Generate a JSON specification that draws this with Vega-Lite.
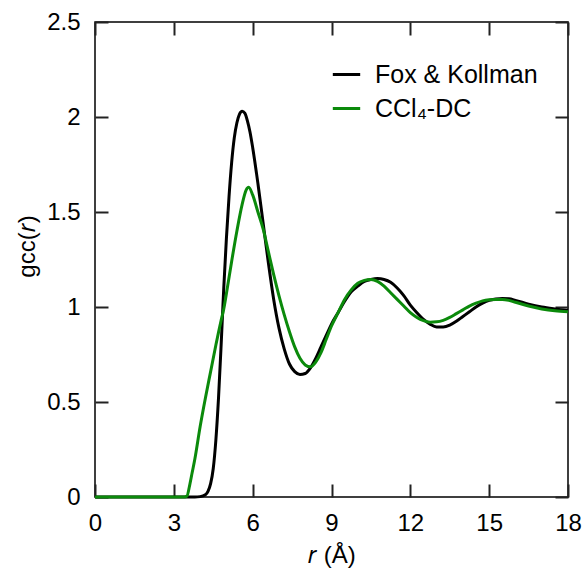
{
  "$schema": "https://vega.github.io/schema/vega-lite/v6.json",
  "autosize": "none",
  "padding": {"left": 95, "top": 22, "right": 19, "bottom": 80},
  "width": 473,
  "height": 475,
  "config": {"view": {"stroke": "black", "strokeWidth": 1.5}},
  "datasets": {
    "fk": [
      {"s": "Fox & Kollman", "r": 0, "g": 0}, {"s": "Fox & Kollman", "r": 3.8, "g": 0}, {"s": "Fox & Kollman", "r": 4.0, "g": 0.002}, {"s": "Fox & Kollman", "r": 4.2, "g": 0.012}, {"s": "Fox & Kollman", "r": 4.3, "g": 0.03}, {"s": "Fox & Kollman", "r": 4.4, "g": 0.07},
      {"s": "Fox & Kollman", "r": 4.5, "g": 0.15}, {"s": "Fox & Kollman", "r": 4.6, "g": 0.3}, {"s": "Fox & Kollman", "r": 4.7, "g": 0.52}, {"s": "Fox & Kollman", "r": 4.8, "g": 0.8}, {"s": "Fox & Kollman", "r": 4.85, "g": 0.95},
      {"s": "Fox & Kollman", "r": 4.9, "g": 1.1}, {"s": "Fox & Kollman", "r": 5.0, "g": 1.36}, {"s": "Fox & Kollman", "r": 5.1, "g": 1.58}, {"s": "Fox & Kollman", "r": 5.2, "g": 1.76}, {"s": "Fox & Kollman", "r": 5.3, "g": 1.89},
      {"s": "Fox & Kollman", "r": 5.4, "g": 1.97}, {"s": "Fox & Kollman", "r": 5.5, "g": 2.015}, {"s": "Fox & Kollman", "r": 5.6, "g": 2.03}, {"s": "Fox & Kollman", "r": 5.7, "g": 2.02}, {"s": "Fox & Kollman", "r": 5.8, "g": 1.98},
      {"s": "Fox & Kollman", "r": 5.9, "g": 1.92}, {"s": "Fox & Kollman", "r": 6.0, "g": 1.84}, {"s": "Fox & Kollman", "r": 6.2, "g": 1.65}, {"s": "Fox & Kollman", "r": 6.4, "g": 1.44}, {"s": "Fox & Kollman", "r": 6.6, "g": 1.23},
      {"s": "Fox & Kollman", "r": 6.8, "g": 1.04}, {"s": "Fox & Kollman", "r": 7.0, "g": 0.89}, {"s": "Fox & Kollman", "r": 7.2, "g": 0.78}, {"s": "Fox & Kollman", "r": 7.4, "g": 0.7}, {"s": "Fox & Kollman", "r": 7.6, "g": 0.66},
      {"s": "Fox & Kollman", "r": 7.8, "g": 0.645}, {"s": "Fox & Kollman", "r": 8.0, "g": 0.65}, {"s": "Fox & Kollman", "r": 8.2, "g": 0.68}, {"s": "Fox & Kollman", "r": 8.4, "g": 0.73}, {"s": "Fox & Kollman", "r": 8.6, "g": 0.79},
      {"s": "Fox & Kollman", "r": 8.8, "g": 0.85}, {"s": "Fox & Kollman", "r": 9.0, "g": 0.91}, {"s": "Fox & Kollman", "r": 9.25, "g": 0.97}, {"s": "Fox & Kollman", "r": 9.5, "g": 1.03}, {"s": "Fox & Kollman", "r": 9.75, "g": 1.08},
      {"s": "Fox & Kollman", "r": 10.0, "g": 1.11}, {"s": "Fox & Kollman", "r": 10.25, "g": 1.135}, {"s": "Fox & Kollman", "r": 10.5, "g": 1.145}, {"s": "Fox & Kollman", "r": 10.75, "g": 1.15}, {"s": "Fox & Kollman", "r": 11.0, "g": 1.145},
      {"s": "Fox & Kollman", "r": 11.25, "g": 1.13}, {"s": "Fox & Kollman", "r": 11.5, "g": 1.1}, {"s": "Fox & Kollman", "r": 11.75, "g": 1.06}, {"s": "Fox & Kollman", "r": 12.0, "g": 1.01}, {"s": "Fox & Kollman", "r": 12.25, "g": 0.97},
      {"s": "Fox & Kollman", "r": 12.5, "g": 0.935}, {"s": "Fox & Kollman", "r": 12.75, "g": 0.91}, {"s": "Fox & Kollman", "r": 13.0, "g": 0.895}, {"s": "Fox & Kollman", "r": 13.25, "g": 0.895}, {"s": "Fox & Kollman", "r": 13.5, "g": 0.905},
      {"s": "Fox & Kollman", "r": 13.75, "g": 0.925}, {"s": "Fox & Kollman", "r": 14.0, "g": 0.95}, {"s": "Fox & Kollman", "r": 14.25, "g": 0.975}, {"s": "Fox & Kollman", "r": 14.5, "g": 1.0}, {"s": "Fox & Kollman", "r": 14.75, "g": 1.02},
      {"s": "Fox & Kollman", "r": 15.0, "g": 1.035}, {"s": "Fox & Kollman", "r": 15.25, "g": 1.042}, {"s": "Fox & Kollman", "r": 15.5, "g": 1.045}, {"s": "Fox & Kollman", "r": 15.75, "g": 1.043}, {"s": "Fox & Kollman", "r": 16.0, "g": 1.035},
      {"s": "Fox & Kollman", "r": 16.5, "g": 1.015}, {"s": "Fox & Kollman", "r": 17.0, "g": 1.0}, {"s": "Fox & Kollman", "r": 17.5, "g": 0.99}, {"s": "Fox & Kollman", "r": 18.0, "g": 0.982}
    ],
    "dc": [
      {"s": "CCl₄-DC", "r": 0, "g": 0}, {"s": "CCl₄-DC", "r": 3.4, "g": 0}, {"s": "CCl₄-DC", "r": 3.5, "g": 0.005}, {"s": "CCl₄-DC", "r": 3.6, "g": 0.06}, {"s": "CCl₄-DC", "r": 3.7, "g": 0.13},
      {"s": "CCl₄-DC", "r": 3.8, "g": 0.2}, {"s": "CCl₄-DC", "r": 4.0, "g": 0.37}, {"s": "CCl₄-DC", "r": 4.2, "g": 0.52}, {"s": "CCl₄-DC", "r": 4.4, "g": 0.66}, {"s": "CCl₄-DC", "r": 4.6, "g": 0.8},
      {"s": "CCl₄-DC", "r": 4.8, "g": 0.93}, {"s": "CCl₄-DC", "r": 4.9, "g": 0.99}, {"s": "CCl₄-DC", "r": 5.0, "g": 1.07}, {"s": "CCl₄-DC", "r": 5.2, "g": 1.24}, {"s": "CCl₄-DC", "r": 5.4, "g": 1.4},
      {"s": "CCl₄-DC", "r": 5.6, "g": 1.54}, {"s": "CCl₄-DC", "r": 5.75, "g": 1.615}, {"s": "CCl₄-DC", "r": 5.85, "g": 1.63}, {"s": "CCl₄-DC", "r": 6.0, "g": 1.59}, {"s": "CCl₄-DC", "r": 6.2, "g": 1.5},
      {"s": "CCl₄-DC", "r": 6.4, "g": 1.41}, {"s": "CCl₄-DC", "r": 6.6, "g": 1.29}, {"s": "CCl₄-DC", "r": 6.8, "g": 1.17}, {"s": "CCl₄-DC", "r": 7.0, "g": 1.06}, {"s": "CCl₄-DC", "r": 7.2, "g": 0.96},
      {"s": "CCl₄-DC", "r": 7.4, "g": 0.87}, {"s": "CCl₄-DC", "r": 7.6, "g": 0.79}, {"s": "CCl₄-DC", "r": 7.8, "g": 0.73}, {"s": "CCl₄-DC", "r": 8.0, "g": 0.695}, {"s": "CCl₄-DC", "r": 8.2, "g": 0.685},
      {"s": "CCl₄-DC", "r": 8.4, "g": 0.71}, {"s": "CCl₄-DC", "r": 8.6, "g": 0.76}, {"s": "CCl₄-DC", "r": 8.8, "g": 0.83}, {"s": "CCl₄-DC", "r": 9.0, "g": 0.9}, {"s": "CCl₄-DC", "r": 9.25, "g": 0.97},
      {"s": "CCl₄-DC", "r": 9.5, "g": 1.04}, {"s": "CCl₄-DC", "r": 9.75, "g": 1.09}, {"s": "CCl₄-DC", "r": 10.0, "g": 1.125}, {"s": "CCl₄-DC", "r": 10.25, "g": 1.14}, {"s": "CCl₄-DC", "r": 10.5, "g": 1.145},
      {"s": "CCl₄-DC", "r": 10.75, "g": 1.135}, {"s": "CCl₄-DC", "r": 11.0, "g": 1.11}, {"s": "CCl₄-DC", "r": 11.25, "g": 1.075}, {"s": "CCl₄-DC", "r": 11.5, "g": 1.04}, {"s": "CCl₄-DC", "r": 11.75, "g": 1.005},
      {"s": "CCl₄-DC", "r": 12.0, "g": 0.97}, {"s": "CCl₄-DC", "r": 12.25, "g": 0.945}, {"s": "CCl₄-DC", "r": 12.5, "g": 0.928}, {"s": "CCl₄-DC", "r": 12.75, "g": 0.92}, {"s": "CCl₄-DC", "r": 13.0, "g": 0.922},
      {"s": "CCl₄-DC", "r": 13.25, "g": 0.93}, {"s": "CCl₄-DC", "r": 13.5, "g": 0.945}, {"s": "CCl₄-DC", "r": 13.75, "g": 0.965}, {"s": "CCl₄-DC", "r": 14.0, "g": 0.985}, {"s": "CCl₄-DC", "r": 14.25, "g": 1.005},
      {"s": "CCl₄-DC", "r": 14.5, "g": 1.02}, {"s": "CCl₄-DC", "r": 14.75, "g": 1.032}, {"s": "CCl₄-DC", "r": 15.0, "g": 1.038}, {"s": "CCl₄-DC", "r": 15.25, "g": 1.04}, {"s": "CCl₄-DC", "r": 15.5, "g": 1.04},
      {"s": "CCl₄-DC", "r": 15.75, "g": 1.035}, {"s": "CCl₄-DC", "r": 16.0, "g": 1.025}, {"s": "CCl₄-DC", "r": 16.5, "g": 1.005}, {"s": "CCl₄-DC", "r": 17.0, "g": 0.99}, {"s": "CCl₄-DC", "r": 17.5, "g": 0.98},
      {"s": "CCl₄-DC", "r": 18.0, "g": 0.975}
    ]
  },
  "layer": [
    {
      "data": {"name": "fk"},
      "mark": {"type": "line", "strokeWidth": 3, "interpolate": "monotone"},
      "encoding": {
        "x": {"field": "r", "type": "quantitative", "scale": {"domain": [0, 18], "nice": false},
          "axis": {"orient": "bottom", "values": [0, 3, 6, 9, 12, 15, 18], "grid": false, "domain": false, "tickColor": "#222222", "tickWidth": 2, "offset": -13, "tickSize": 13, "labelPadding": 14, "labelFlush": false, "labelFont": "Liberation Sans", "labelFontSize": 24, "labelColor": "black", "title": "𝑟 (Å)", "titleFont": "Liberation Sans", "titleFontSize": 24, "titleFontWeight": "normal", "titleColor": "black", "titlePadding": 8}},
        "y": {"field": "g", "type": "quantitative", "scale": {"domain": [0, 2.5], "nice": false},
          "axis": {"orient": "left", "values": [0, 0.5, 1, 1.5, 2, 2.5], "format": "~g", "grid": false, "domain": false, "tickColor": "#222222", "tickWidth": 2, "offset": -13, "tickSize": 13, "labelPadding": 15, "labelFlush": false, "labelFont": "Liberation Sans", "labelFontSize": 24, "labelColor": "black", "title": "gᴄᴄ(𝑟)", "titleFont": "Liberation Sans", "titleFontSize": 24, "titleFontWeight": "normal", "titleColor": "black", "titlePadding": 7, "titleY": 224}},
        "color": {"field": "s", "type": "nominal",
          "scale": {"domain": ["Fox & Kollman", "CCl₄-DC"], "range": ["#000000", "#0b8a0b"]},
          "legend": {"orient": "none", "legendX": 236, "legendY": 37, "title": null, "symbolType": "stroke", "symbolSize": 750, "symbolStrokeWidth": 3, "labelFontSize": 25, "labelLimit": 400, "labelFont": "Liberation Sans", "labelColor": "black", "rowPadding": 5, "labelOffset": 13}}
      }
    },
    {
      "data": {"name": "dc"},
      "mark": {"type": "line", "strokeWidth": 3, "interpolate": "monotone"},
      "encoding": {
        "x": {"field": "r", "type": "quantitative", "axis": {"orient": "top", "values": [0, 3, 6, 9, 12, 15, 18], "grid": false, "domain": false, "tickColor": "#222222", "tickWidth": 2, "offset": -13, "tickSize": 13, "labels": false, "title": null}},
        "y": {"field": "g", "type": "quantitative", "axis": {"orient": "right", "values": [0, 0.5, 1, 1.5, 2, 2.5], "grid": false, "domain": false, "tickColor": "#222222", "tickWidth": 2, "offset": -13, "tickSize": 13, "labels": false, "title": null}},
        "color": {"field": "s", "type": "nominal"}
      }
    }
  ],
  "resolve": {"axis": {"x": "independent", "y": "independent"}}
}
